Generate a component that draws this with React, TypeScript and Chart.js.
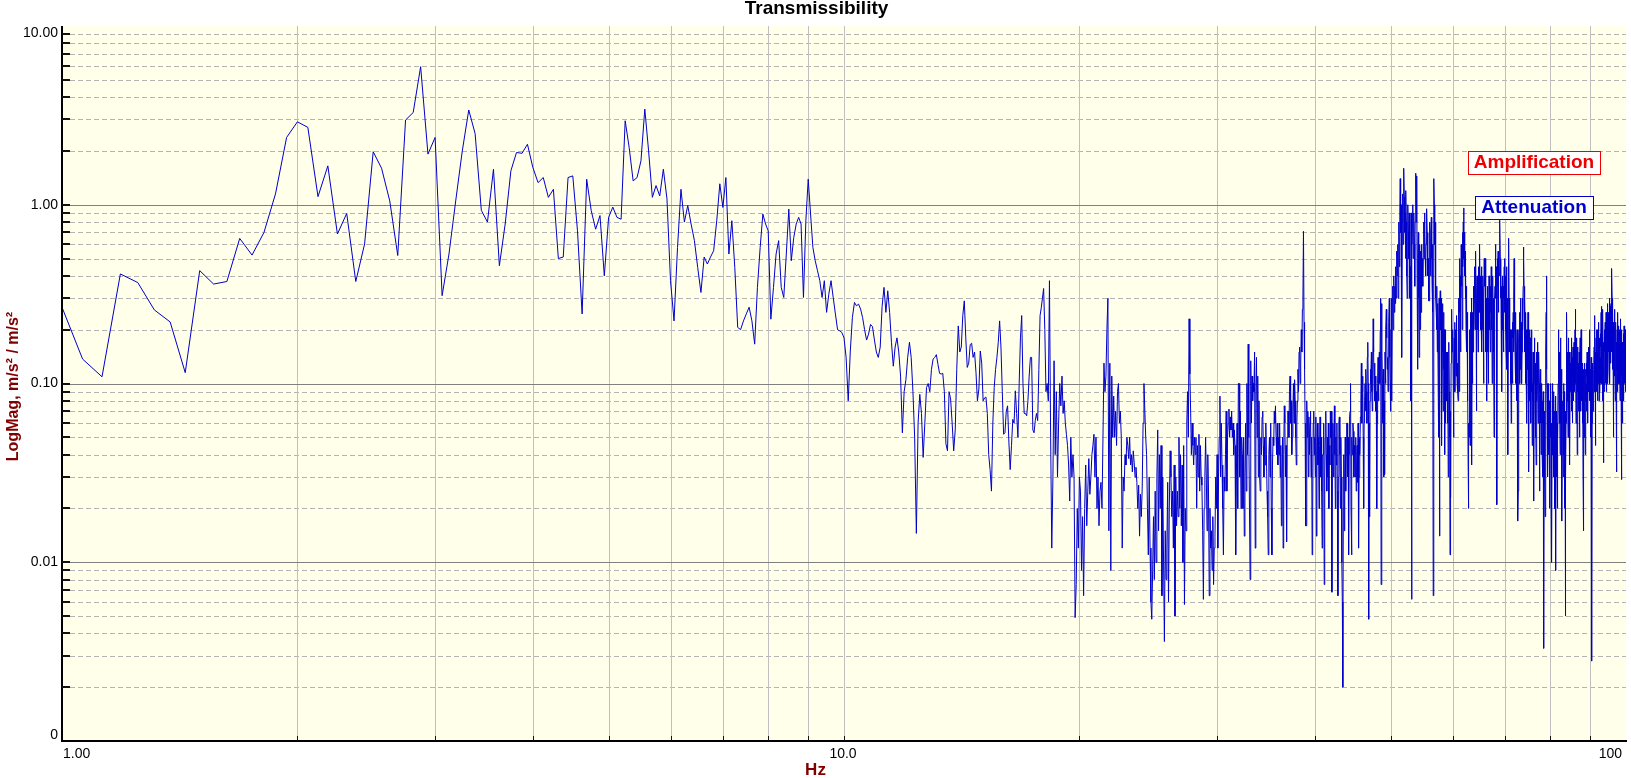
import React, { useEffect, useRef } from "react";
import { Chart, registerables } from "chart.js";

Chart.register(...registerables);

// Frequency bins: 1.0 Hz to 100 Hz, 0.0625 Hz resolution
const F_START = 1.0;
const F_STEP = 0.0625;

// Transmissibility magnitude, per band
const band01to10 = [
  0.267, 0.137, 0.109, 0.41, 0.367, 0.258, 0.221, 0.115, 0.428, 0.36, 0.372, 0.648, 0.523, 0.7, 1.15, 2.38,
  2.91, 2.71, 1.11, 1.65, 0.686, 0.894, 0.372, 0.603, 1.98, 1.6, 1.05, 0.52, 2.98, 3.28, 5.92, 1.92,
  2.38, 0.31, 0.53, 1.05, 2.0, 3.39, 2.5, 0.93, 0.8, 1.58, 0.456, 0.78, 1.55, 1.96, 1.94, 2.18,
  1.62, 1.33, 1.42, 1.1, 1.22, 0.5, 0.51, 1.42, 1.45, 0.715, 0.245, 1.39, 0.93, 0.73, 0.87, 0.4,
  0.85, 0.97, 0.85, 0.83, 2.95, 2.09, 1.36, 1.42, 1.76, 3.43, 2.0, 1.1, 1.28, 1.12, 1.58, 1.08,
  0.376, 0.224, 0.577, 1.22, 0.8, 0.99, 0.78, 0.63, 0.446, 0.323, 0.51, 0.466, 0.51, 0.553, 0.814, 1.31,
  0.966, 1.42, 0.53, 0.814, 0.446, 0.206, 0.2, 0.224, 0.245, 0.267, 0.224, 0.166, 0.345, 0.577, 0.887, 0.78,
  0.715, 0.229, 0.345, 0.53, 0.63, 0.345, 0.303, 0.53, 0.946, 0.486, 0.656, 0.78, 0.85, 0.78, 0.303, 0.814,
  1.39, 0.887, 0.577, 0.486, 0.427, 0.376, 0.303, 0.376, 0.25, 0.316, 0.376, 0.303, 0.245, 0.2, 0.197, 0.193,
];

const band10to20 = [
  0.18, 0.14, 0.08, 0.152, 0.234, 0.284, 0.272, 0.278, 0.261, 0.234, 0.2, 0.175, 0.189, 0.214, 0.208, 0.175,
  0.15, 0.14, 0.16, 0.27, 0.345, 0.25, 0.33, 0.25, 0.17, 0.125, 0.16, 0.18, 0.15, 0.11, 0.053, 0.09,
  0.105, 0.14, 0.17, 0.14, 0.09, 0.05, 0.0145, 0.06, 0.087, 0.068, 0.0386, 0.06, 0.095, 0.1, 0.09, 0.12,
  0.137, 0.14, 0.145, 0.128, 0.114, 0.113, 0.114, 0.09, 0.046, 0.042, 0.09, 0.082, 0.06, 0.042, 0.055, 0.12,
  0.21, 0.15, 0.16, 0.24, 0.29, 0.18, 0.123, 0.13, 0.165, 0.168, 0.14, 0.15, 0.115, 0.08, 0.093, 0.152,
  0.13, 0.08, 0.083, 0.084, 0.068, 0.04, 0.033, 0.025, 0.06, 0.095, 0.12, 0.14, 0.17, 0.224, 0.16, 0.09,
  0.052, 0.053, 0.07, 0.075, 0.047, 0.033, 0.045, 0.063, 0.06, 0.091, 0.068, 0.05, 0.1, 0.18, 0.24, 0.1,
  0.068, 0.068, 0.066, 0.08, 0.11, 0.14, 0.14, 0.055, 0.053, 0.062, 0.068, 0.062, 0.12, 0.24, 0.265, 0.3,
  0.34, 0.2, 0.09, 0.1, 0.08, 0.376, 0.05, 0.012, 0.03, 0.134, 0.04, 0.09, 0.03, 0.06, 0.1, 0.075,
  0.11, 0.068, 0.08, 0.06, 0.052, 0.045, 0.035, 0.022, 0.05, 0.03, 0.04, 0.03, 0.0049, 0.0075, 0.02, 0.012,
];

const band20to40 = [
  0.03, 0.025, 0.009, 0.018, 0.0065, 0.02, 0.035, 0.016, 0.025, 0.038, 0.024, 0.03, 0.04, 0.045, 0.052, 0.03,
  0.05, 0.02, 0.03, 0.016, 0.025, 0.028, 0.02, 0.05, 0.13, 0.09, 0.11, 0.2, 0.3, 0.015, 0.13, 0.009,
  0.11, 0.05, 0.085, 0.05, 0.07, 0.045, 0.09, 0.1, 0.06, 0.07, 0.05, 0.012, 0.03, 0.025, 0.04, 0.035,
  0.05, 0.045, 0.038, 0.05, 0.035, 0.04, 0.032, 0.042, 0.036, 0.03, 0.034, 0.028, 0.02, 0.027, 0.014, 0.024,
  0.018, 0.026, 0.06, 0.1, 0.07, 0.05, 0.04, 0.02, 0.011, 0.03, 0.012, 0.006, 0.0048, 0.009, 0.018, 0.008,
  0.025, 0.01, 0.03, 0.055, 0.015, 0.04, 0.02, 0.045, 0.0065, 0.03, 0.01, 0.0036, 0.015, 0.008, 0.012, 0.028,
  0.006, 0.02, 0.042, 0.03, 0.018, 0.025, 0.012, 0.035, 0.005, 0.03, 0.016, 0.025, 0.018, 0.05, 0.02, 0.04,
  0.016, 0.035, 0.01, 0.045, 0.0058, 0.02, 0.015, 0.06, 0.09, 0.05, 0.23, 0.113, 0.07, 0.04, 0.06, 0.045,
  0.035, 0.05, 0.04, 0.05, 0.02, 0.045, 0.03, 0.052, 0.025, 0.045, 0.03, 0.027, 0.015, 0.0062, 0.02, 0.03,
  0.05, 0.03, 0.015, 0.04, 0.025, 0.0065, 0.02, 0.012, 0.015, 0.009, 0.018, 0.0075, 0.012, 0.014, 0.03, 0.02,
  0.04, 0.012, 0.03, 0.05, 0.085, 0.03, 0.06, 0.035, 0.02, 0.011, 0.03, 0.025, 0.04, 0.07, 0.025, 0.05,
  0.06, 0.072, 0.05, 0.065, 0.055, 0.07, 0.05, 0.06, 0.04, 0.055, 0.045, 0.011, 0.03, 0.06, 0.02, 0.1,
  0.1, 0.03, 0.07, 0.02, 0.05, 0.04, 0.02, 0.05, 0.014, 0.03, 0.06, 0.025, 0.1, 0.04, 0.166, 0.05,
  0.02, 0.008, 0.134, 0.06, 0.11, 0.08, 0.1, 0.09, 0.15, 0.012, 0.09, 0.14, 0.05, 0.11, 0.03, 0.08,
  0.03, 0.025, 0.05, 0.04, 0.065, 0.07, 0.045, 0.03, 0.05, 0.035, 0.06, 0.04, 0.025, 0.018, 0.011, 0.04,
  0.05, 0.03, 0.06, 0.02, 0.011, 0.035, 0.05, 0.045, 0.07, 0.06, 0.075, 0.05, 0.04, 0.06, 0.035, 0.05,
  0.04, 0.06, 0.03, 0.045, 0.016, 0.03, 0.05, 0.012, 0.04, 0.075, 0.06, 0.03, 0.045, 0.013, 0.05, 0.07,
  0.07, 0.05, 0.09, 0.11, 0.06, 0.08, 0.04, 0.05, 0.07, 0.1, 0.06, 0.105, 0.08, 0.05, 0.035, 0.06,
  0.08, 0.12, 0.09, 0.15, 0.16, 0.1, 0.13, 0.2, 0.15, 0.26, 0.3, 0.71, 0.22, 0.12, 0.06, 0.016,
  0.016, 0.08, 0.05, 0.07, 0.03, 0.065, 0.04, 0.06, 0.07, 0.03, 0.05, 0.011, 0.02, 0.06, 0.07, 0.04,
];

const band40to60 = [
  0.05, 0.03, 0.065, 0.014, 0.04, 0.06, 0.035, 0.05, 0.02, 0.045, 0.065, 0.03, 0.05, 0.025, 0.012, 0.04,
  0.04, 0.06, 0.0075, 0.03, 0.05, 0.07, 0.04, 0.025, 0.05, 0.03, 0.06, 0.02, 0.045, 0.035, 0.07, 0.05,
  0.07, 0.0068, 0.04, 0.06, 0.03, 0.05, 0.075, 0.04, 0.02, 0.05, 0.035, 0.06, 0.025, 0.0065, 0.03, 0.06,
  0.065, 0.04, 0.02, 0.05, 0.03, 0.01, 0.006, 0.002, 0.02, 0.04, 0.015, 0.03, 0.05, 0.025, 0.04, 0.06,
  0.06, 0.03, 0.05, 0.011, 0.04, 0.065, 0.07, 0.1, 0.02, 0.011, 0.05, 0.04, 0.06, 0.054, 0.03, 0.045,
  0.04, 0.03, 0.05, 0.025, 0.035, 0.045, 0.028, 0.06, 0.012, 0.03, 0.05, 0.04, 0.065, 0.08, 0.13, 0.06,
  0.09, 0.11, 0.05, 0.02, 0.06, 0.08, 0.1, 0.07, 0.12, 0.09, 0.06, 0.14, 0.17, 0.1, 0.0048, 0.06,
  0.018, 0.08, 0.12, 0.1, 0.15, 0.09, 0.07, 0.12, 0.23, 0.15, 0.1, 0.13, 0.08, 0.11, 0.07, 0.09,
  0.02, 0.06, 0.1, 0.14, 0.08, 0.12, 0.15, 0.1, 0.2, 0.3, 0.0075, 0.28, 0.15, 0.1, 0.06, 0.12,
  0.03, 0.08, 0.031, 0.15, 0.1, 0.2, 0.26, 0.18, 0.12, 0.14, 0.09, 0.16, 0.22, 0.3, 0.14, 0.1,
  0.07, 0.2, 0.3, 0.08, 0.25, 0.35, 0.2, 0.3, 0.4, 0.25, 0.35, 0.28, 0.45, 0.3, 0.5, 0.55,
  0.4, 0.6, 0.3, 0.5, 0.8, 0.45, 0.9, 1.4, 0.7, 1.0, 0.5, 0.14, 0.8, 1.15, 0.6, 0.9,
  1.6, 1.1, 0.7, 0.9, 0.5, 1.2, 0.8, 0.4, 0.3, 0.6, 1.0, 0.7, 0.5, 0.9, 0.6, 0.3,
  0.45, 0.08, 0.9, 0.0062, 0.6, 0.8, 1.0, 0.5, 0.7, 0.9, 0.6, 0.35, 0.8, 1.1, 1.5, 0.8,
  1.45, 0.4, 0.12, 0.5, 0.7, 0.3, 0.14, 0.6, 0.45, 0.2, 0.55, 0.25, 0.6, 0.35, 0.5, 0.4,
  0.35, 0.6, 0.8, 0.5, 0.9, 0.7, 0.5, 0.4, 0.6, 0.8, 0.95, 0.7, 0.6, 0.4, 0.5, 0.29,
  0.29, 0.5, 0.8, 0.6, 0.4, 0.7, 0.85, 0.5, 0.35, 0.6, 0.25, 0.0065, 0.4, 1.4, 1.0, 0.6,
  0.8, 0.5, 0.3, 0.25, 0.2, 0.35, 0.15, 0.28, 0.12, 0.05, 0.2, 0.3, 0.014, 0.25, 0.33, 0.2,
  0.3, 0.1, 0.045, 0.2, 0.28, 0.15, 0.07, 0.25, 0.12, 0.2, 0.04, 0.1, 0.2, 0.06, 0.15, 0.1,
  0.08, 0.15, 0.06, 0.12, 0.03, 0.1, 0.17, 0.09, 0.05, 0.011, 0.07, 0.023, 0.13, 0.2, 0.26, 0.15,
];

const band60to80 = [
  0.15, 0.2, 0.1, 0.05, 0.12, 0.18, 0.22, 0.09, 0.14, 0.2, 0.11, 0.16, 0.24, 0.1, 0.13, 0.09,
  0.08, 0.2, 0.3, 0.09, 0.5, 0.25, 0.4, 0.15, 0.3, 0.6, 0.35, 0.5, 0.2, 0.7, 0.45, 0.8,
  0.96, 0.5, 0.7, 0.4, 0.55, 0.3, 0.45, 0.2, 0.35, 0.15, 0.25, 0.08, 0.12, 0.04, 0.02, 0.06,
  0.05, 0.1, 0.2, 0.045, 0.15, 0.25, 0.12, 0.3, 0.035, 0.2, 0.1, 0.25, 0.15, 0.35, 0.2, 0.3,
  0.45, 0.3, 0.2, 0.4, 0.55, 0.25, 0.07, 0.3, 0.4, 0.2, 0.35, 0.15, 0.3, 0.45, 0.25, 0.5,
  0.6, 0.35, 0.2, 0.4, 0.25, 0.45, 0.3, 0.15, 0.35, 0.2, 0.4, 0.25, 0.1, 0.3, 0.5, 0.4,
  0.35, 0.5, 0.25, 0.15, 0.3, 0.2, 0.08, 0.25, 0.35, 0.15, 0.3, 0.1, 0.2, 0.4, 0.3, 0.2,
  0.3, 0.15, 0.35, 0.25, 0.45, 0.2, 0.3, 0.1, 0.25, 0.4, 0.2, 0.3, 0.15, 0.05, 0.2, 0.3,
  0.35, 0.5, 0.6, 0.3, 0.45, 0.2, 0.021, 0.3, 0.5, 0.35, 0.55, 0.25, 0.45, 0.4, 0.7, 0.8,
  0.82, 0.5, 0.3, 0.45, 0.2, 0.35, 0.09, 0.3, 0.2, 0.4, 0.25, 0.35, 0.15, 0.3, 0.45, 0.25,
  0.5, 0.3, 0.4, 0.2, 0.15, 0.25, 0.45, 0.12, 0.3, 0.2, 0.04, 0.15, 0.25, 0.65, 0.3, 0.2,
  0.25, 0.15, 0.2, 0.1, 0.18, 0.06, 0.15, 0.2, 0.12, 0.22, 0.1, 0.18, 0.25, 0.15, 0.3, 0.5,
  0.45, 0.2, 0.15, 0.25, 0.1, 0.2, 0.15, 0.08, 0.12, 0.2, 0.1, 0.06, 0.017, 0.025, 0.1, 0.18,
  0.2, 0.15, 0.25, 0.1, 0.2, 0.3, 0.12, 0.18, 0.22, 0.1, 0.15, 0.25, 0.3, 0.2, 0.35, 0.58,
  0.5, 0.35, 0.25, 0.15, 0.3, 0.2, 0.1, 0.25, 0.15, 0.2, 0.1, 0.06, 0.15, 0.2, 0.12, 0.25,
  0.2, 0.1, 0.032, 0.15, 0.2, 0.08, 0.12, 0.18, 0.1, 0.06, 0.14, 0.2, 0.09, 0.12, 0.045, 0.1,
  0.08, 0.15, 0.12, 0.06, 0.022, 0.1, 0.18, 0.15, 0.1, 0.05, 0.13, 0.07, 0.035, 0.1, 0.15, 0.08,
  0.12, 0.17, 0.1, 0.06, 0.12, 0.08, 0.15, 0.1, 0.025, 0.05, 0.09, 0.12, 0.06, 0.1, 0.04, 0.08,
  0.06, 0.1, 0.04, 0.08, 0.03, 0.06, 0.09, 0.05, 0.0033, 0.04, 0.07, 0.05, 0.03, 0.018, 0.06, 0.1,
  0.15, 0.25, 0.4, 0.12, 0.08, 0.05, 0.1, 0.03, 0.07, 0.06, 0.1, 0.04, 0.08, 0.05, 0.02, 0.06,
];

const band80to100 = [
  0.08, 0.05, 0.1, 0.03, 0.06, 0.02, 0.01, 0.05, 0.08, 0.1, 0.04, 0.07, 0.03, 0.06, 0.09, 0.05,
  0.04, 0.07, 0.02, 0.05, 0.085, 0.009, 0.06, 0.03, 0.05, 0.07, 0.04, 0.06, 0.02, 0.05, 0.1, 0.13,
  0.2, 0.1, 0.06, 0.12, 0.15, 0.08, 0.04, 0.18, 0.1, 0.06, 0.12, 0.05, 0.08, 0.017, 0.04, 0.06,
  0.05, 0.08, 0.03, 0.1, 0.06, 0.04, 0.09, 0.02, 0.05, 0.07, 0.01, 0.005, 0.03, 0.06, 0.1, 0.08,
  0.25, 0.12, 0.08, 0.15, 0.1, 0.05, 0.12, 0.18, 0.08, 0.1, 0.15, 0.06, 0.035, 0.1, 0.13, 0.09,
  0.1, 0.15, 0.07, 0.12, 0.18, 0.09, 0.14, 0.06, 0.11, 0.16, 0.08, 0.13, 0.1, 0.17, 0.12, 0.09,
  0.13, 0.2, 0.26, 0.1, 0.15, 0.06, 0.12, 0.18, 0.08, 0.14, 0.04, 0.11, 0.16, 0.09, 0.13, 0.07,
  0.12, 0.08, 0.15, 0.1, 0.05, 0.13, 0.18, 0.09, 0.14, 0.07, 0.2, 0.11, 0.15, 0.08, 0.13, 0.1,
  0.06, 0.1, 0.03, 0.015, 0.08, 0.12, 0.05, 0.1, 0.13, 0.07, 0.11, 0.04, 0.09, 0.12, 0.08, 0.1,
  0.13, 0.07, 0.11, 0.15, 0.08, 0.12, 0.06, 0.14, 0.1, 0.16, 0.09, 0.13, 0.2, 0.11, 0.08, 0.12,
  0.1, 0.05, 0.12, 0.08, 0.14, 0.04, 0.09, 0.0028, 0.06, 0.11, 0.08, 0.13, 0.07, 0.1, 0.12, 0.09,
  0.12, 0.16, 0.24, 0.13, 0.09, 0.15, 0.1, 0.045, 0.12, 0.18, 0.09, 0.14, 0.2, 0.11, 0.15, 0.08,
  0.13, 0.2, 0.1, 0.17, 0.12, 0.22, 0.08, 0.15, 0.11, 0.18, 0.09, 0.14, 0.19, 0.1, 0.16, 0.25,
  0.27, 0.15, 0.1, 0.18, 0.12, 0.2, 0.08, 0.26, 0.13, 0.036, 0.11, 0.17, 0.09, 0.14, 0.2, 0.12,
  0.15, 0.22, 0.1, 0.18, 0.13, 0.25, 0.09, 0.16, 0.2, 0.12, 0.28, 0.14, 0.19, 0.1, 0.23, 0.15,
  0.18, 0.25, 0.12, 0.3, 0.15, 0.2, 0.1, 0.27, 0.16, 0.22, 0.13, 0.28, 0.18, 0.24, 0.15, 0.44,
  0.3, 0.2, 0.12, 0.25, 0.16, 0.1, 0.22, 0.05, 0.18, 0.13, 0.26, 0.11, 0.2, 0.15, 0.08, 0.19,
  0.14, 0.22, 0.1, 0.17, 0.07, 0.032, 0.12, 0.2, 0.09, 0.15, 0.25, 0.11, 0.18, 0.13, 0.21, 0.1,
  0.16, 0.1, 0.2, 0.13, 0.08, 0.18, 0.12, 0.23, 0.15, 0.09, 0.2, 0.14, 0.029, 0.11, 0.17, 0.1,
  0.06, 0.14, 0.09, 0.19, 0.12, 0.16, 0.08, 0.21, 0.13, 0.1, 0.17, 0.11, 0.2, 0.14, 0.09, 0.12,
  0.094,
];

const X_MIN = 1;
const X_MAX = 100;
const Y_MIN = 0.001;
const Y_MAX = 10;
const X_DECADES = [1, 10];
const Y_DECADES = [0.001, 0.01, 0.1, 1];
const Y_TICK_LABELS = [
  { v: 10, t: "10.00" },
  { v: 1, t: "1.00" },
  { v: 0.1, t: "0.10" },
  { v: 0.01, t: "0.01" },
  { v: 0.001, t: "0" },
];
const X_TICK_LABELS = [
  { v: 1, t: "1.00", align: "left" },
  { v: 10, t: "10.0", align: "center" },
  { v: 100, t: "100", align: "right" },
];
const TITLE = "Transmissibility";
const X_TITLE = "Hz";
const Y_TITLE = "LogMag, m/s\u00B2 / m/s\u00B2";
const LEGEND_ITEMS = [
  { text: "Amplification", color: "#EE0000" },
  { text: "Attenuation", color: "#0000CC" },
];

const FONT = '"Liberation Sans", Arial, Helvetica, sans-serif';
const PLOT_BG = "#FFFFEA";
const LINE_COLOR = "#0000CC";
const AXIS_TITLE_COLOR = "#800000";

const decorations = {
  id: "decorations",
  beforeDraw(chart: any) {
    const { ctx, chartArea: a } = chart;
    const xs = chart.scales.x;
    const ys = chart.scales.y;
    ctx.save();
    ctx.fillStyle = "#FFFFFF";
    ctx.fillRect(0, 0, chart.width, chart.height);
    ctx.fillStyle = PLOT_BG;
    ctx.fillRect(a.left, a.top, a.right - a.left, a.bottom - a.top);
    ctx.lineWidth = 1;

    // minor horizontal grid (dashed)
    ctx.setLineDash([5, 3]);
    ctx.strokeStyle = "#B4B4B4";
    for (const d of Y_DECADES) {
      for (let k = 2; k <= 9; k++) {
        const py = Math.round(ys.getPixelForValue(k * d)) + 0.5;
        ctx.beginPath();
        ctx.moveTo(a.left, py);
        ctx.lineTo(a.right, py);
        ctx.stroke();
      }
    }
    ctx.setLineDash([]);

    // vertical grid
    ctx.strokeStyle = "#C0C0C0";
    for (const d of X_DECADES) {
      for (let k = 1; k <= 9; k++) {
        const v = k * d;
        if (v <= X_MIN || v >= X_MAX) continue;
        const px = Math.round(xs.getPixelForValue(v)) + 0.5;
        ctx.beginPath();
        ctx.moveTo(px, a.top);
        ctx.lineTo(px, a.bottom);
        ctx.stroke();
      }
    }

    // major horizontal grid
    ctx.strokeStyle = "#808080";
    for (const d of Y_DECADES) {
      if (d <= Y_MIN || d >= Y_MAX) continue;
      const py = Math.round(ys.getPixelForValue(d)) + 0.5;
      ctx.beginPath();
      ctx.moveTo(a.left, py);
      ctx.lineTo(a.right, py);
      ctx.stroke();
    }
    ctx.restore();
  },
  afterDatasetsDraw(chart: any) {
    const { ctx, chartArea: a } = chart;
    const xs = chart.scales.x;
    const ys = chart.scales.y;
    ctx.save();

    // axis lines
    ctx.fillStyle = "#000000";
    ctx.fillRect(a.left - 1, a.top, 2, a.bottom - a.top + 1);
    ctx.fillRect(a.left - 1, a.bottom - 1, a.right - a.left + 2, 2);

    // y tick marks (inside)
    ctx.fillStyle = "#111111";
    for (const d of Y_DECADES) {
      for (let k = 1; k <= 9; k++) {
        const v = k * d;
        if (v <= Y_MIN) continue;
        const py = Math.round(ys.getPixelForValue(v));
        ctx.fillRect(a.left, py - 1, 8, 2);
      }
    }
    // x tick marks (inside, upward)
    for (const d of X_DECADES) {
      for (let k = 1; k <= 9; k++) {
        const v = k * d;
        if (v <= X_MIN || v >= X_MAX) continue;
        const px = Math.round(xs.getPixelForValue(v));
        ctx.fillRect(px, a.bottom - 5, 1, 5);
      }
    }

    // y tick labels
    ctx.font = "14px " + FONT;
    ctx.fillStyle = "#000000";
    ctx.textAlign = "right";
    ctx.textBaseline = "middle";
    for (const l of Y_TICK_LABELS) {
      let py = ys.getPixelForValue(l.v);
      if (l.v >= Y_MAX) py += 7;
      if (l.v <= Y_MIN) py -= 6;
      ctx.fillText(l.t, a.left - 4, py);
    }
    // x tick labels
    ctx.textBaseline = "alphabetic";
    for (const l of X_TICK_LABELS) {
      const px = xs.getPixelForValue(l.v);
      ctx.textAlign = l.align as CanvasTextAlign;
      const off = l.align === "left" ? 1 : l.align === "right" ? -4 : -1;
      ctx.fillText(l.t, px + off, a.bottom + 17);
    }

    // title
    ctx.font = "bold 19px " + FONT;
    ctx.textAlign = "center";
    ctx.fillStyle = "#000000";
    ctx.fillText(TITLE, chart.width / 2 + 1, 14);

    // axis titles
    ctx.font = "bold 17px " + FONT;
    ctx.fillStyle = AXIS_TITLE_COLOR;
    ctx.fillText(X_TITLE, chart.width / 2, a.bottom + 34);
    ctx.save();
    ctx.translate(18, (a.top + a.bottom) / 2 + 3);
    ctx.rotate(-Math.PI / 2);
    ctx.font = "bold 16px " + FONT;
    ctx.textAlign = "center";
    ctx.textBaseline = "alphabetic";
    ctx.fillText(Y_TITLE, 0, 0);
    ctx.restore();

    // legend boxes
    ctx.font = "bold 19px " + FONT;
    ctx.textAlign = "center";
    ctx.textBaseline = "middle";
    const cx = a.right - 92;
    LEGEND_ITEMS.forEach((item, i) => {
      const w = ctx.measureText(item.text).width + 12;
      const h = 23;
      const cy = a.top + 136 + i * 45;
      const x0 = Math.round(cx - w / 2) + 0.5;
      const y0 = Math.round(cy - h / 2) + 0.5;
      ctx.fillStyle = "#FFFFFF";
      ctx.fillRect(x0, y0, Math.round(w), h);
      ctx.strokeStyle = item.color;
      ctx.lineWidth = 1;
      ctx.strokeRect(x0, y0, Math.round(w), h);
      ctx.fillStyle = item.color;
      ctx.fillText(item.text, cx, cy + 1);
    });
    ctx.restore();
  },
};

export default function App() {
  const canvasRef = useRef<HTMLCanvasElement | null>(null);

  useEffect(() => {
    document.body.style.margin = "0";
    const values = [
      ...band01to10,
      ...band10to20,
      ...band20to40,
      ...band40to60,
      ...band60to80,
      ...band80to100,
    ];
    const points = values.map((v, i) => ({ x: F_START + i * F_STEP, y: v }));
    const chart = new Chart(canvasRef.current as HTMLCanvasElement, {
      type: "line",
      data: {
        datasets: [
          {
            data: points,
            borderColor: LINE_COLOR,
            borderWidth: 1,
            pointRadius: 0,
            tension: 0,
            fill: false,
            borderJoinStyle: "bevel",
          },
        ],
      },
      options: {
        animation: false,
        responsive: false,
        devicePixelRatio: 1,
        parsing: false,
        normalized: true,
        events: [],
        layout: { padding: { left: 62, right: 5, top: 26, bottom: 37 } },
        plugins: {
          legend: { display: false },
          title: { display: false },
          tooltip: { enabled: false },
        },
        scales: {
          x: { type: "logarithmic", min: X_MIN, max: X_MAX, display: false },
          y: { type: "logarithmic", min: Y_MIN, max: Y_MAX, display: false },
        },
      },
      plugins: [decorations],
    } as any);
    return () => chart.destroy();
  }, []);

  return (
    <div style={{ position: "fixed", left: 0, top: 0, width: 1631, height: 778, background: "#FFFFFF" }}>
      <canvas ref={canvasRef} width={1631} height={778} style={{ display: "block", width: 1631, height: 778 }} />
    </div>
  );
}
